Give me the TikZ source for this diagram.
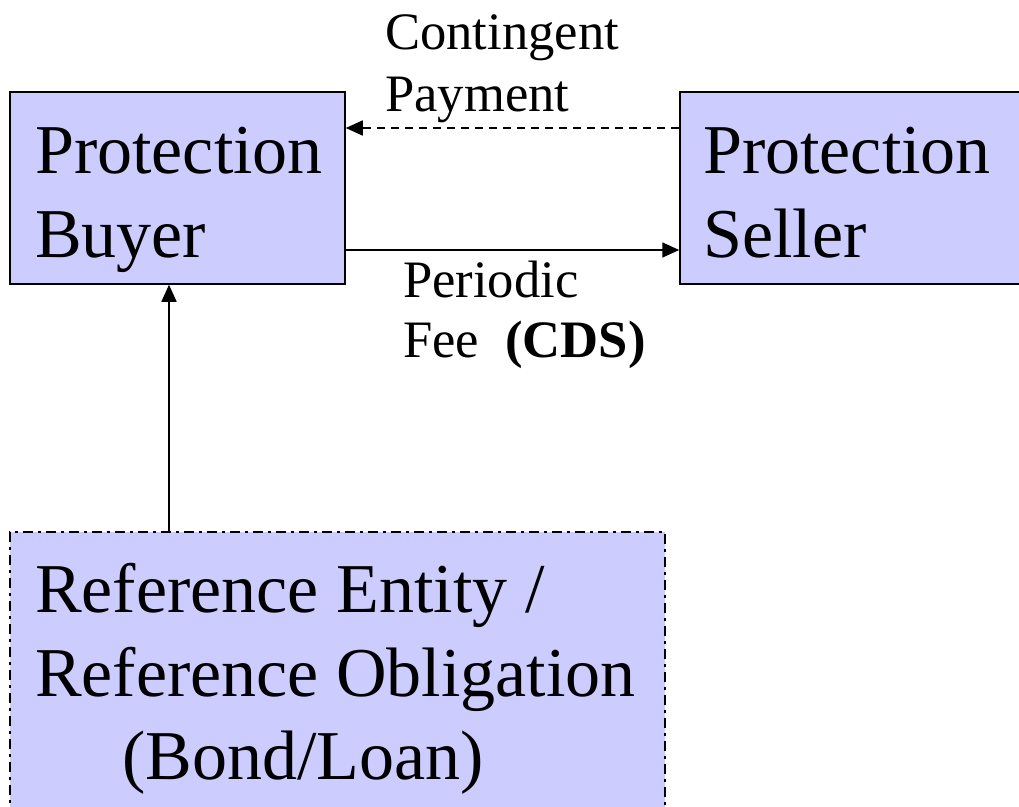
\documentclass[tikz,border=0pt]{standalone}
\usepackage{fontspec}
\setmainfont{Liberation Serif}
\usetikzlibrary{arrows.meta}
\definecolor{boxfill}{HTML}{CCCCFF}
\begin{document}
\begin{tikzpicture}[x=1pt,y=-1pt,
  party/.style={draw=black,line width=1.5pt,fill=boxfill,inner sep=0pt,anchor=center},
  bigtext/.style={inner sep=0pt,anchor=base west,font=\fontsize{70}{84}\selectfont},
  smalltext/.style={inner sep=0pt,anchor=base west,font=\fontsize{52.6}{62}\selectfont},
  flow/.style={line width=1.6pt,-{Triangle[length=17pt,width=15pt]}}]
\useasboundingbox (0,0) rectangle (1019,806);
% parties
\node[party,minimum width=335pt,minimum height=192pt] (buyer) at (177.5,188) {};
\node[party,minimum width=350pt,minimum height=192pt] (seller) at (855,188) {};
\node[party,dash pattern=on 10pt off 5pt on 3pt off 5pt,minimum width=655pt,minimum height=300pt] (ref) at (337.5,682) {};
% party labels
\node[bigtext] (buyer1) at (35,173) {Protection};
\node[bigtext] (buyer2) at (35,257) {Buyer};
\node[bigtext] (seller1) at (703,173) {Protection};
\node[bigtext] (seller2) at (703,257) {Seller};
\node[bigtext] (ref1) at (35,612) {Reference Entity /};
\node[bigtext] (ref2) at (35,696) {Reference Obligation};
\node[bigtext] (ref3) at (122,779) {(Bond/Loan)};
% flow labels
\node[smalltext] (cont1) at (385,49) {Contingent};
\node[smalltext] (cont2) at (385,111) {Payment};
\node[smalltext] (fee1) at (403,297) {Periodic};
\node[smalltext] (fee2) at (403,357) {Fee\ \ \textbf{(CDS)}};
% flows
\draw[flow,dash pattern=on 8pt off 6pt] ([yshift=60pt]seller.west) -- ([yshift=60pt]buyer.east);
\draw[flow] ([yshift=-62pt]buyer.east) -- ([yshift=-62pt]seller.west);
\draw[flow] ([xshift=-168.5pt]ref.north) -- ([xshift=-168.5pt]ref.north |- buyer.south);
\end{tikzpicture}
\end{document}
